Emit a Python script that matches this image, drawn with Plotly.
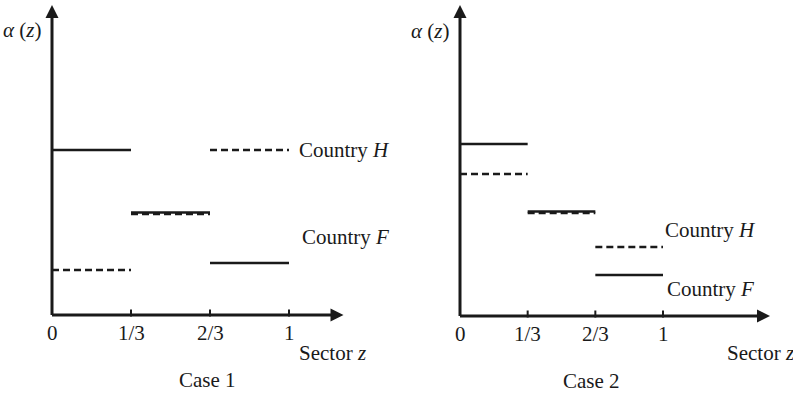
import plotly.graph_objects as go

# ---- data ----
z_breaks = [0, 1/3, 2/3, 1]
tick_vals = [0, 1/3, 2/3, 1]
tick_text = ["0", "1/3", "2/3", "1"]

case1_F = [1.65, 1.025, 0.52]  # solid
case1_H = [0.45, 1.01, 1.65]   # dashed
case2_F = [1.72, 1.045, 0.41]  # solid
case2_H = [1.42, 1.03, 0.69]   # dashed

case_titles = ["Case 1", "Case 2"]
FONT = "Liberation Serif"

fig = go.Figure()

def seg_xy(values):
    xs, ys = [], []
    for i, v in enumerate(values):
        xs += [z_breaks[i], z_breaks[i + 1], None]
        ys += [v, v, None]
    return xs, ys

panels = [
    dict(xa="x", ya="y", F=case1_F, H=case1_H, xtip=1.23, ytip=3.10),
    dict(xa="x2", ya="y2", F=case2_F, H=case2_H, xtip=1.527, ytip=3.11),
]

for p in panels:
    fig.add_trace(go.Scatter(x=[0, 0, None, 0, p["xtip"] - 0.03], y=[p["ytip"] - 0.08, 0, None, 0, 0],
                             mode="lines", line=dict(color="#1a1a1a", width=3),
                             xaxis=p["xa"], yaxis=p["ya"], hoverinfo="skip"))
    fig.add_trace(go.Scatter(x=[0], y=[p["ytip"]], mode="markers",
                             marker=dict(symbol="arrow-up", size=13, color="#1a1a1a", line=dict(width=0)),
                             xaxis=p["xa"], yaxis=p["ya"], hoverinfo="skip"))
    fig.add_trace(go.Scatter(x=[p["xtip"]], y=[0], mode="markers",
                             marker=dict(symbol="arrow-right", size=13, color="#1a1a1a", line=dict(width=0)),
                             xaxis=p["xa"], yaxis=p["ya"], hoverinfo="skip"))
    fig.add_trace(go.Scatter(x=tick_vals[1:], y=[0.02] * 3, mode="markers",
                             marker=dict(symbol="line-ns", size=5, line=dict(width=2, color="#1a1a1a")),
                             xaxis=p["xa"], yaxis=p["ya"], hoverinfo="skip"))
    hx, hy = seg_xy(p["H"])
    fig.add_trace(go.Scatter(x=hx, y=hy, mode="lines",
                             line=dict(color="#1a1a1a", width=2.5, dash="7px,4px"),
                             xaxis=p["xa"], yaxis=p["ya"], hoverinfo="skip"))
    fx, fy = seg_xy(p["F"])
    fig.add_trace(go.Scatter(x=fx, y=fy, mode="lines",
                             line=dict(color="#1a1a1a", width=2.5),
                             xaxis=p["xa"], yaxis=p["ya"], hoverinfo="skip"))

ann = []
def txt(text, x, y, xref, yref, xanchor="center"):
    ann.append(dict(text=text, x=x, y=y, xref=xref, yref=yref, showarrow=False,
                    xanchor=xanchor, yanchor="middle",
                    font=dict(family=FONT, size=21, color="#1a1a1a")))

for i, p in enumerate(panels):
    for tv, tt in zip(tick_vals, tick_text):
        txt(tt, tv, -0.18, p["xa"], p["ya"])
    txt("<i>α</i> (<i>z</i>)", -0.125 if i == 0 else -0.15, 2.85, p["xa"], p["ya"])
    txt(case_titles[i], 0.654 if i == 0 else 0.65, -0.65, p["xa"], p["ya"])

txt("Sector <i>z</i>", 1.034, -0.38, "x", "y", "left")
txt("Sector <i>z</i>", 1.305, -0.37, "x2", "y2", "left")
txt("Country <i>H</i>", 1.034, 1.65, "x", "y", "left")
txt("Country <i>F</i>", 1.046, 0.78, "x", "y", "left")
txt("Country <i>H</i>", 1.0, 0.86, "x2", "y2", "left")
txt("Country <i>F</i>", 1.01, 0.27, "x2", "y2", "left")

fig.update_layout(
    width=793, height=394,
    margin=dict(l=0, r=0, t=0, b=0),
    paper_bgcolor="white", plot_bgcolor="white",
    showlegend=False,
    annotations=ann,
    xaxis=dict(domain=[0, 396 / 793], range=[-52 / 237, (396 - 52) / 237], visible=False),
    yaxis=dict(domain=[0, 1], range=[(315 - 394) / 100, 3.15], visible=False),
    xaxis2=dict(domain=[396 / 793, 1], range=[(396 - 460) / 203, (793 - 460) / 203], visible=False),
    yaxis2=dict(domain=[0, 1], range=[(316 - 394) / 100, 3.16], visible=False, anchor="x2"),
)

fig.write_html("out.html", config={"displayModeBar": False},
               post_script="document.body.style.margin='0px';document.body.style.overflow='hidden';")
